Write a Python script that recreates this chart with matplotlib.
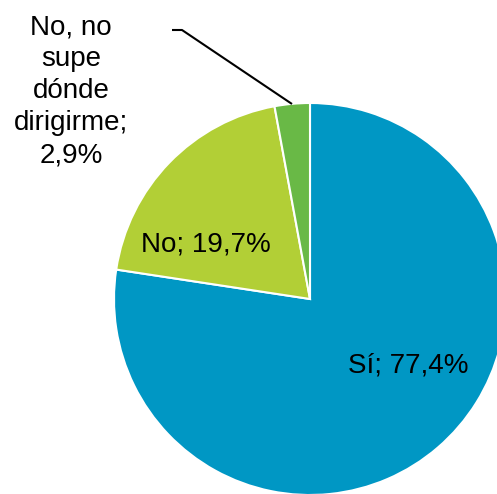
import matplotlib
matplotlib.use("Agg")
import matplotlib.pyplot as plt

labels = ["Sí", "No", "No, no\nsupe\ndónde\ndirigirme"]
values = [77.4, 19.7, 2.9]
value_labels = ["77,4%", "19,7%", "2,9%"]
colors = ["#0097C4", "#B2CF36", "#69B946"]

plt.rcParams['font.family'] = ['Liberation Sans', 'DejaVu Sans']

W, H = 497, 494
fig = plt.figure(figsize=(W / 100, H / 100), dpi=100)
ax = fig.add_axes([0, 0, 1, 1])

cx, cy, r = 310, 195, 196
ax.pie(values, colors=colors, startangle=90, counterclock=False,
       center=(cx, cy), radius=r, frame=True,
       wedgeprops=dict(edgecolor='white', linewidth=1.5))
ax.set_xlim(0, W)
ax.set_ylim(0, H)
ax.set_aspect('equal')
ax.axis('off')

fs = 20
ax.text(408, 121, f"{labels[0]}; {value_labels[0]}", fontsize=fs, ha='center', va='baseline')
ax.text(206, 242, f"{labels[1]}; {value_labels[1]}", fontsize=fs, ha='center', va='baseline')
ax.text(71, 332, f"{labels[2]};\n{value_labels[2]}", fontsize=fs, ha='center', va='baseline',
        linespacing=1.3)
ax.plot([172, 182, 292], [464, 464, 390], color='black', linewidth=1.5, solid_capstyle='butt')

fig.savefig("out.png", dpi=100)
